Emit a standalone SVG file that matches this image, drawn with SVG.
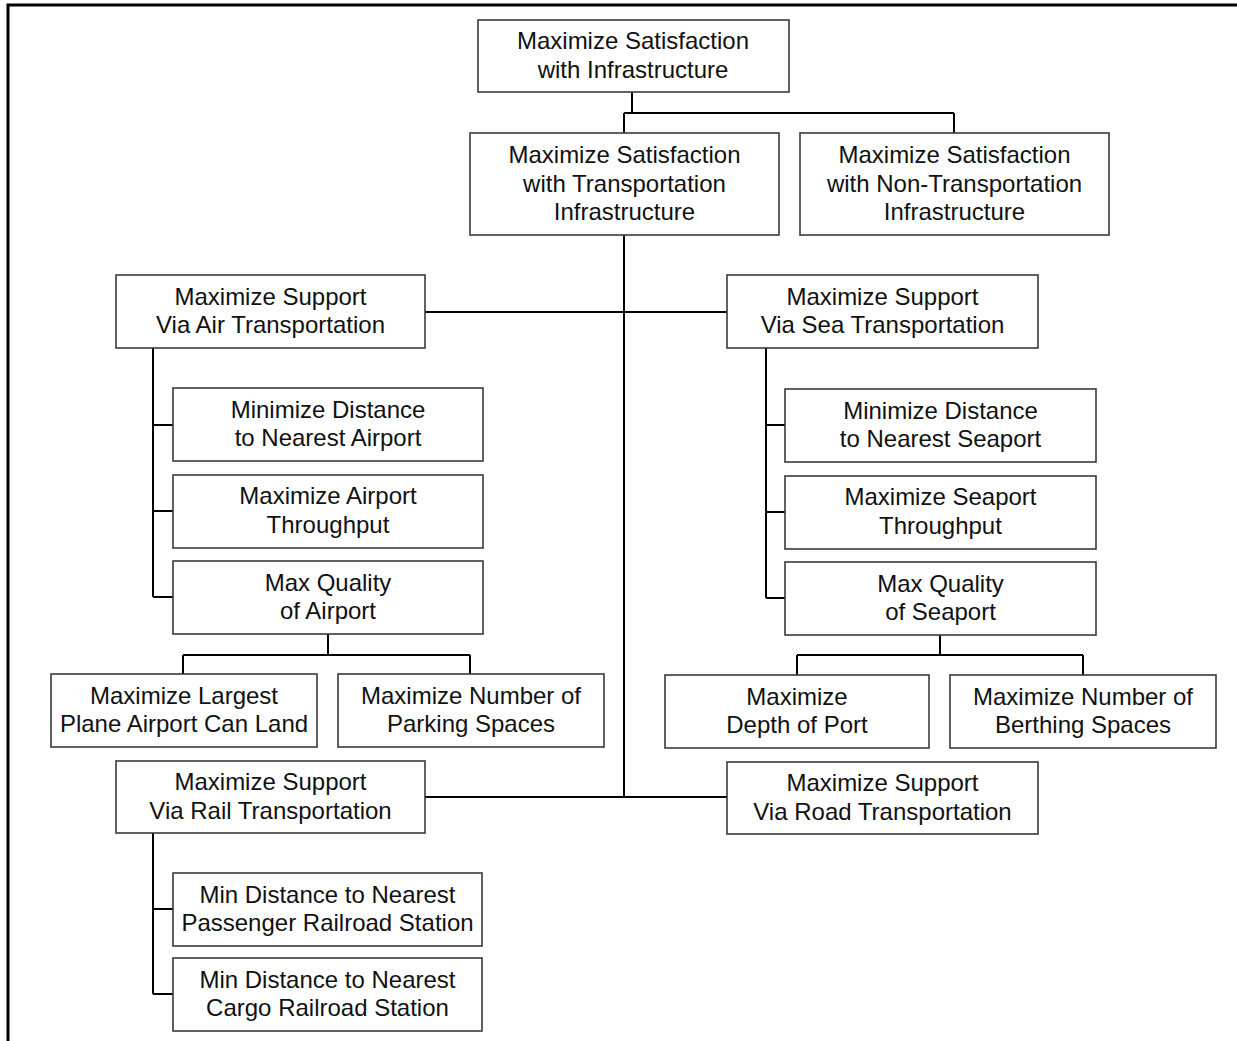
<svg xmlns="http://www.w3.org/2000/svg" width="1237" height="1041" viewBox="0 0 1237 1041">
<style>
.box{fill:#fff;stroke:#3a3a3a;stroke-width:1.6}
.t{font-family:"Liberation Sans",Arial,Helvetica,sans-serif;font-size:24px;fill:#111;text-anchor:middle}
.c{fill:none;stroke:#000;stroke-width:2}
.frame{fill:none;stroke:#000;stroke-width:3}
</style>
<rect width="1237" height="1041" fill="#fff"/>
<path class="frame" d="M8,1041 V5 H1237"/>
<g id="connectors">
<path class="c" d="M632,92 V113 M624,113 H954 M624,113 V133 M954,113 V133"/>
<path class="c" d="M624,235 V797 M425,312 H727 M425,797 H727"/>
<path class="c" d="M153,348 V597 M153,425 H173 M153,511 H173 M153,597 H173"/>
<path class="c" d="M328,634 V655 M183,655 H470 M183,655 V674 M470,655 V674"/>
<path class="c" d="M766,348 V598 M766,425 H785 M766,512 H785 M766,598 H785"/>
<path class="c" d="M940,635 V655 M797,655 H1083 M797,655 V675 M1083,655 V675"/>
<path class="c" d="M153,833 V994 M153,909 H173 M153,994 H173"/>
</g>
<g id="root"><rect class="box" x="478" y="20" width="311" height="72"/><text class="t" x="633" y="49">Maximize Satisfaction</text><text class="t" x="633" y="77.5">with Infrastructure</text></g>
<g id="transport"><rect class="box" x="470" y="133" width="309" height="102"/><text class="t" x="624.5" y="163">Maximize Satisfaction</text><text class="t" x="624.5" y="191.5">with Transportation</text><text class="t" x="624.5" y="220">Infrastructure</text></g>
<g id="nontransport"><rect class="box" x="800" y="133" width="309" height="102"/><text class="t" x="954.5" y="163">Maximize Satisfaction</text><text class="t" x="954.5" y="191.5">with Non-Transportation</text><text class="t" x="954.5" y="220">Infrastructure</text></g>
<g id="air"><rect class="box" x="116" y="275" width="309" height="73"/><text class="t" x="270.5" y="304.5">Maximize Support</text><text class="t" x="270.5" y="333">Via Air Transportation</text></g>
<g id="sea"><rect class="box" x="727" y="275" width="311" height="73"/><text class="t" x="882.5" y="304.5">Maximize Support</text><text class="t" x="882.5" y="333">Via Sea Transportation</text></g>
<g id="airdist"><rect class="box" x="173" y="388" width="310" height="73"/><text class="t" x="328" y="417.5">Minimize Distance</text><text class="t" x="328" y="446">to Nearest Airport</text></g>
<g id="airthru"><rect class="box" x="173" y="475" width="310" height="73"/><text class="t" x="328" y="504">Maximize Airport</text><text class="t" x="328" y="532.5">Throughput</text></g>
<g id="airqual"><rect class="box" x="173" y="561" width="310" height="73"/><text class="t" x="328" y="590.5">Max Quality</text><text class="t" x="328" y="619">of Airport</text></g>
<g id="plane"><rect class="box" x="51" y="674" width="266" height="73"/><text class="t" x="184" y="703.5">Maximize Largest</text><text class="t" x="184" y="732">Plane Airport Can Land</text></g>
<g id="parking"><rect class="box" x="338" y="674" width="266" height="73"/><text class="t" x="471" y="703.5">Maximize Number of</text><text class="t" x="471" y="732">Parking Spaces</text></g>
<g id="seadist"><rect class="box" x="785" y="389" width="311" height="73"/><text class="t" x="940.5" y="418.5">Minimize Distance</text><text class="t" x="940.5" y="447">to Nearest Seaport</text></g>
<g id="seathru"><rect class="box" x="785" y="476" width="311" height="73"/><text class="t" x="940.5" y="505">Maximize Seaport</text><text class="t" x="940.5" y="533.5">Throughput</text></g>
<g id="seaqual"><rect class="box" x="785" y="562" width="311" height="73"/><text class="t" x="940.5" y="591.5">Max Quality</text><text class="t" x="940.5" y="620">of Seaport</text></g>
<g id="depth"><rect class="box" x="665" y="675" width="264" height="73"/><text class="t" x="797" y="704.5">Maximize</text><text class="t" x="797" y="733">Depth of Port</text></g>
<g id="berthing"><rect class="box" x="950" y="675" width="266" height="73"/><text class="t" x="1083" y="704.5">Maximize Number of</text><text class="t" x="1083" y="733">Berthing Spaces</text></g>
<g id="rail"><rect class="box" x="116" y="761" width="309" height="72"/><text class="t" x="270.5" y="790">Maximize Support</text><text class="t" x="270.5" y="818.5">Via Rail Transportation</text></g>
<g id="road"><rect class="box" x="727" y="762" width="311" height="72"/><text class="t" x="882.5" y="791">Maximize Support</text><text class="t" x="882.5" y="819.5">Via Road Transportation</text></g>
<g id="passenger"><rect class="box" x="173" y="873" width="309" height="73"/><text class="t" x="327.5" y="902.5">Min Distance to Nearest</text><text class="t" x="327.5" y="931">Passenger Railroad Station</text></g>
<g id="cargo"><rect class="box" x="173" y="958" width="309" height="73"/><text class="t" x="327.5" y="987.5">Min Distance to Nearest</text><text class="t" x="327.5" y="1016">Cargo Railroad Station</text></g>
</svg>
